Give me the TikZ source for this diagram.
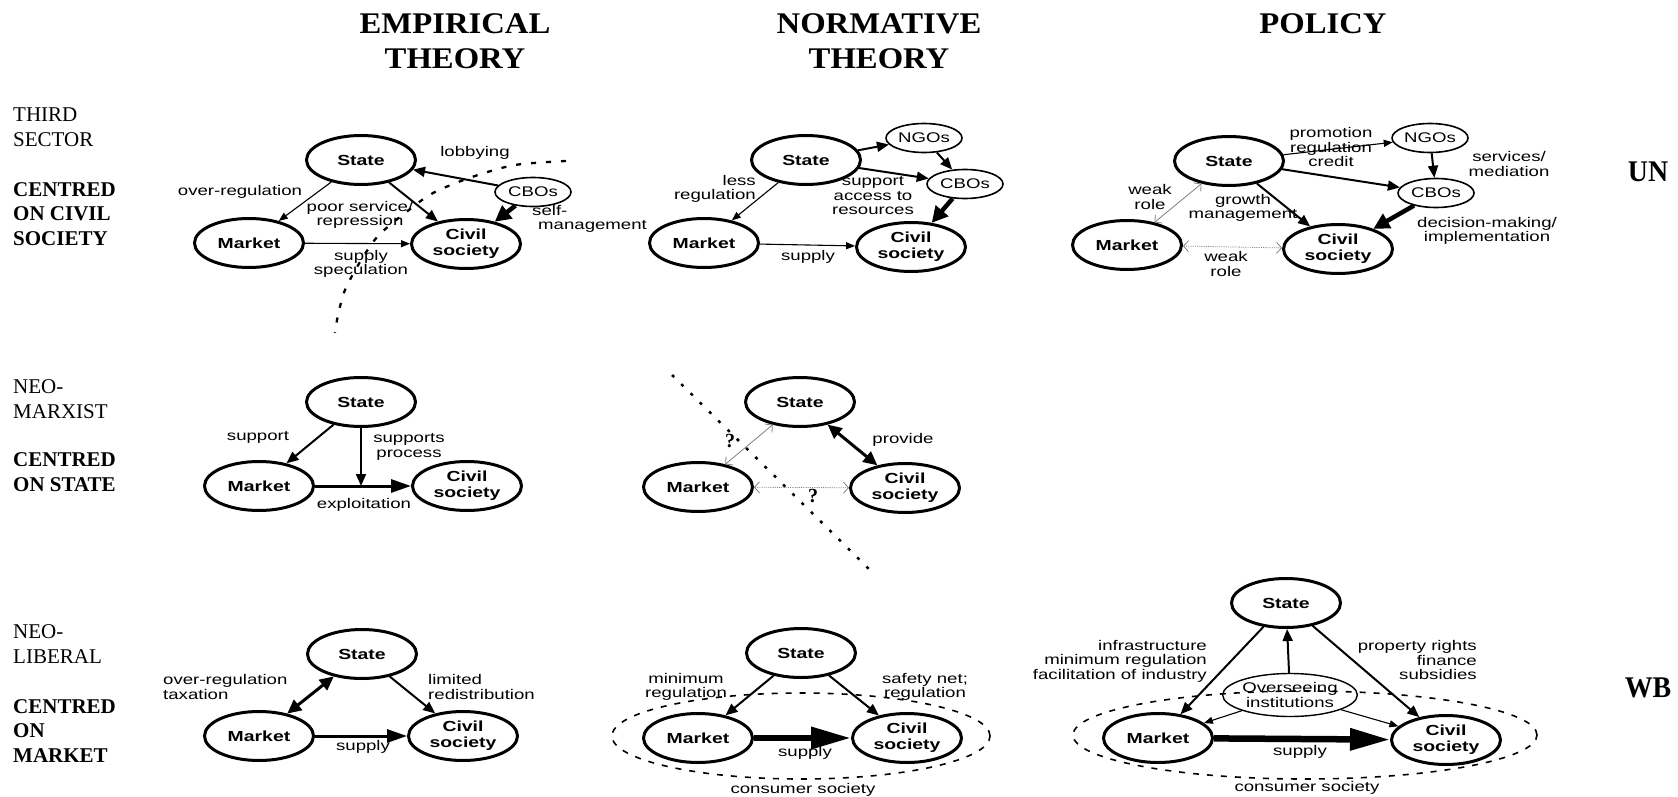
\documentclass[tikz,border=0pt]{standalone}
\usepackage{fontspec}
\setmainfont{Liberation Serif}
\newfontfamily\sansx[FakeStretch=1.33]{Liberation Sans}
\newfontfamily\headx[FakeStretch=1.09]{Liberation Serif}
\newfontfamily\sidex[FakeStretch=0.93]{Liberation Serif}
\usetikzlibrary{shapes.geometric,arrows.meta}

\newcommand{\actfont}{\fontsize{14.6}{16}\selectfont\sansx\bfseries}
\newcommand{\lblfont}{\fontsize{14}{14.5}\selectfont\sansx}
\newcommand{\headfnt}{\fontsize{30}{35}\selectfont\headx\bfseries}
\newcommand{\sidefnt}{\fontsize{30}{35}\selectfont\sidex\bfseries}
\newcommand{\rowfnt}{\fontsize{21}{24.5}\selectfont}

\tikzset{
  actor/.style={ellipse,draw,line width=3pt,minimum width=109pt,minimum height=49pt,inner sep=0pt,align=center,font=\actfont},
  agency/.style={ellipse,draw,line width=1.6pt,minimum width=76pt,minimum height=29pt,inner sep=0pt,align=center,font=\lblfont},
  consumer/.style={ellipse,draw,line width=1.6pt,dash pattern=on 6pt off 8pt,inner sep=0pt},
  lbl/.style={inner sep=0pt,align=center,font=\lblfont},
  link/.style={draw,line width=1.1pt,-{Triangle[length=9pt,width=7pt]}},
  link2/.style={draw,line width=2pt,-{Triangle[length=12pt,width=10pt]}},
  link3/.style={draw,line width=3pt,-{Triangle[length=20pt,width=13pt]}},
  link4/.style={draw,line width=4.5pt,-{Triangle[length=16pt,width=16pt]}},
  duo/.style={draw,line width=3pt,{Triangle[length=14pt,width=13pt]}-{Triangle[length=14pt,width=13pt]}},
  flow/.style={draw,line width=6.5pt,-{Triangle[length=40pt,width=21pt]}},
  weak/.style={draw=gray,line width=0.8pt,<->,>={Straight Barb[length=5pt,width=11pt]}},
  weakdot/.style={weak,dash pattern=on 1pt off 1.2pt},
  divider/.style={draw,line width=2.3pt,dash pattern=on 5pt off 10pt},
  head/.style={align=center,inner sep=0pt,font=\headfnt},
  side/.style={inner sep=0pt,font=\sidefnt},
  rowlbl/.style={align=left,inner sep=0pt,anchor=west,font=\rowfnt},
  query/.style={inner sep=0pt,font=\fontsize{20}{20}\selectfont\bfseries}
}

\begin{document}
\begin{tikzpicture}[x=1pt,y=-1pt]
\useasboundingbox (0,0) rectangle (1678,797);

% headings
\node[head] (hEmp) at (455,41) {EMPIRICAL\\THEORY};
\node[head] (hNorm) at (879,41) {NORMATIVE\\THEORY};
\node[head] (hPol) at (1323,24) {POLICY};
\node[side] (hUN) at (1648,172) {UN};
\node[side] (hWB) at (1648,688) {WB};

\node[rowlbl] (rThird) at (13,127) {THIRD\\SECTOR};
\node[rowlbl,font=\rowfnt\bfseries] (rCivil) at (13,214) {CENTRED\\ON CIVIL\\SOCIETY};
\node[rowlbl] (rMarx) at (13,399) {NEO-\\MARXIST};
\node[rowlbl,font=\rowfnt\bfseries] (rState) at (13,472) {CENTRED\\ON STATE};
\node[rowlbl] (rLib) at (13,644) {NEO-\\LIBERAL};
\node[rowlbl,font=\rowfnt\bfseries] (rMarket) at (13,731) {CENTRED\\ON\\MARKET};

% empirical / third sector
\begin{scope}
  \node[actor] (st1) at (361,160) {State};
  \node[actor] (mk1) at (249,243) {Market};
  \node[actor] (cs1) at (466,244) {Civil\\society};
  \node[agency] (cb1) at (533,192) {CBOs};
  \path (st1) edge[link] (mk1)
        (st1) edge[link2] (cs1)
        (mk1) edge[link] (cs1)
        (cb1) edge[link2] (st1)
        (cb1) edge[link4] (cs1);
  \node[lbl] (l1a) at (240,192) {over-regulation};
  \node[lbl] (l1b) at (360,215) {poor service/\\repression};
  \node[lbl] (l1c) at (361,264) {supply\\speculation};
  \node[lbl] (l1d) at (475,153) {lobbying};
  \node[lbl,align=left,anchor=west] (l1e) at (532,219) {self-\\\hspace*{6pt}management};
  \draw[divider] plot[smooth] coordinates {(566,161) (515,165) (472,177) (433,193) (405,213) (378,236) (360,262) (345,290) (338,315) (335,333)};
\end{scope}

% normative / third sector
\begin{scope}
  \node[actor] (st2) at (806,160) {State};
  \node[actor] (mk2) at (704,243) {Market};
  \node[actor] (cs2) at (911,247) {Civil\\society};
  \node[agency] (ng2) at (924,138) {NGOs};
  \node[agency] (cb2) at (965,184) {CBOs};
  \path (st2) edge[link] (mk2)
        (mk2) edge[link] (cs2)
        (st2) edge[link2] (ng2)
        (st2) edge[link2] (cb2)
        (ng2) edge[link2] (cb2)
        (cb2) edge[link4] (cs2);
  \node[lbl,align=right,anchor=east] (l2a) at (756,189) {less\\regulation};
  \node[lbl] (l2b) at (873,196) {support\\access to\\resources};
  \node[lbl] (l2c) at (808,257) {supply};
\end{scope}

% policy / third sector
\begin{scope}
  \node[actor] (st3) at (1229,161) {State};
  \node[actor] (mk3) at (1127,245) {Market};
  \node[actor] (cs3) at (1338,249) {Civil\\society};
  \node[agency] (ng3) at (1430,138) {NGOs};
  \node[agency] (cb3) at (1436,193) {CBOs};
  \path (st3) edge[link] (ng3)
        (st3) edge[link2] (cb3)
        (ng3) edge[link2] (cb3)
        (cb3) edge[link4] (cs3)
        (st3) edge[link2] (cs3)
        (st3) edge[weak] (mk3)
        (mk3) edge[weakdot] (cs3);
  \node[lbl] (l3a) at (1331,147) {promotion\\regulation\\credit};
  \node[lbl] (l3b) at (1509,164) {services/\\mediation};
  \node[lbl] (l3c) at (1150,197) {weak\\role};
  \node[lbl] (l3d) at (1243,208) {growth\\management};
  \node[lbl] (l3e) at (1487,231) {decision-making/\\implementation};
  \node[lbl] (l3f) at (1226,264) {weak\\role};
\end{scope}

% empirical / neo-marxist
\begin{scope}
  \node[actor] (st4) at (361,402) {State};
  \node[actor] (mk4) at (259,486) {Market};
  \node[actor] (cs4) at (467,486) {Civil\\society};
  \path (st4) edge[link2] (mk4)
        (mk4) edge[link3] (cs4)
        (st4.south) edge[link2] (st4 |- mk4);
  \node[lbl] (l4a) at (258,437) {support};
  \node[lbl] (l4b) at (409,447) {supports\\process};
  \node[lbl] (l4c) at (364,505) {exploitation};
\end{scope}

% normative / neo-marxist
\begin{scope}
  \node[actor] (st5) at (800,402) {State};
  \node[actor] (mk5) at (698,487) {Market};
  \node[actor] (cs5) at (905,488) {Civil\\society};
  \path (st5) edge[weak] (mk5)
        (st5) edge[duo] (cs5)
        (mk5) edge[weakdot] (cs5);
  \node[query] (q5a) at (730,441) {?};
  \node[lbl] (l5a) at (903,440) {provide};
  \node[query] (q5b) at (813,496) {?};
  \draw[divider,dash pattern=on 3pt off 10pt,line width=2.5pt] (672,375) -- (872,572);
\end{scope}

% empirical / neo-liberal
\begin{scope}
  \node[actor] (st6) at (362,654) {State};
  \node[actor] (mk6) at (259,736) {Market};
  \node[actor] (cs6) at (463,736) {Civil\\society};
  \path (st6) edge[duo] (mk6)
        (st6) edge[link2] (cs6)
        (mk6) edge[link3] (cs6);
  \node[lbl,align=left,anchor=west] (l6a) at (163,687) {over-regulation\\taxation};
  \node[lbl,align=left,anchor=west] (l6b) at (428,687) {limited\\redistribution};
  \node[lbl] (l6c) at (363,747) {supply};
\end{scope}

% normative / neo-liberal
\begin{scope}
  \node[consumer,minimum width=378pt,minimum height=86pt] (cn7) at (801,736) {};
  \node[actor] (st7) at (801,653) {State};
  \node[actor] (mk7) at (698,738) {Market};
  \node[actor] (cs7) at (907,738) {Civil\\society};
  \path (st7) edge[link2] (mk7)
        (st7) edge[link2] (cs7)
        (mk7) edge[flow] (cs7);
  \node[lbl] (l7a) at (686,687) {minimum\\regulation};
  \node[lbl] (l7b) at (925,687) {safety net;\\regulation};
  \node[lbl] (l7c) at (805,753) {supply};
  \node[lbl] (l7d) at (803,790) {consumer society};
\end{scope}

% policy / neo-liberal
\begin{scope}
  \node[consumer,minimum width=464pt,minimum height=88pt] (cn8) at (1305,735) {};
  \node[actor] (st8) at (1286,603) {State};
  \node[agency,line width=1.4pt,minimum width=121pt,minimum height=43pt] (ov8) at (1290,695) {Overseeing\\institutions};
  \node[actor] (mk8) at (1158,738) {Market};
  \node[actor] (cs8) at (1446,740) {Civil\\society};
  \path (st8) edge[link2] (mk8)
        (st8) edge[link2] (cs8)
        (ov8) edge[link2] (st8)
        (ov8) edge[link] (mk8)
        (ov8) edge[link] (cs8)
        (mk8) edge[flow] (cs8);
  \node[lbl,align=right,anchor=east] (l8a) at (1207,661) {infrastructure\\minimum regulation\\facilitation of industry};
  \node[lbl,align=right,anchor=east] (l8b) at (1477,660) {property rights\\finance\\subsidies};
  \node[lbl] (l8c) at (1300,752) {supply};
  \node[lbl] (l8d) at (1307,788) {consumer society};
\end{scope}
\end{tikzpicture}
\end{document}
